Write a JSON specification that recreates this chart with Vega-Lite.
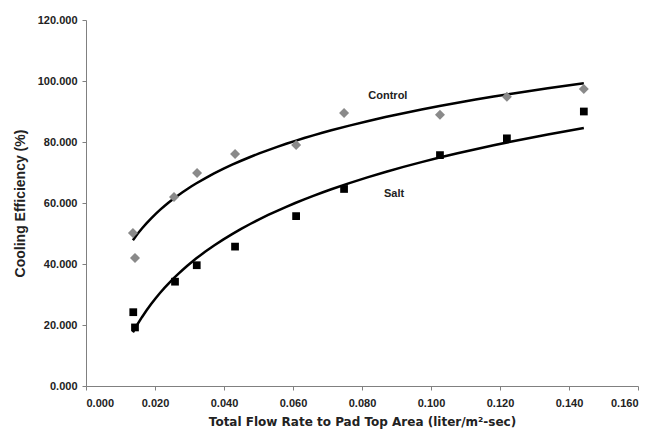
{
  "$schema": "https://vega.github.io/schema/vega-lite/v6.json",
  "autosize": {"type": "none"},
  "width": 552,
  "height": 366,
  "padding": {"left": 86, "top": 20, "right": 15, "bottom": 49},
  "background": "white",
  "config": {"view": {"stroke": null}},
  "datasets": {
    "pts": [
      {"series": "Control", "x": 0.0136, "y": 50.2},
      {"series": "Control", "x": 0.0142, "y": 42.0},
      {"series": "Control", "x": 0.0255, "y": 62.0},
      {"series": "Control", "x": 0.0322, "y": 69.8},
      {"series": "Control", "x": 0.0432, "y": 76.1},
      {"series": "Control", "x": 0.0609, "y": 79.0},
      {"series": "Control", "x": 0.0748, "y": 89.5},
      {"series": "Control", "x": 0.1026, "y": 88.9},
      {"series": "Control", "x": 0.1220, "y": 94.8},
      {"series": "Control", "x": 0.1443, "y": 97.4},
      {"series": "Salt", "x": 0.0137, "y": 24.2},
      {"series": "Salt", "x": 0.0142, "y": 19.2},
      {"series": "Salt", "x": 0.0258, "y": 34.2},
      {"series": "Salt", "x": 0.0321, "y": 39.6},
      {"series": "Salt", "x": 0.0432, "y": 45.7},
      {"series": "Salt", "x": 0.0609, "y": 55.7},
      {"series": "Salt", "x": 0.0748, "y": 64.6},
      {"series": "Salt", "x": 0.1026, "y": 75.7},
      {"series": "Salt", "x": 0.1220, "y": 81.2},
      {"series": "Salt", "x": 0.1443, "y": 90.0}
    ],
    "labels": [
      {"label": "Control", "x": 0.0875, "y": 95.1},
      {"label": "Salt", "x": 0.0893, "y": 63.0}
    ]
  },
  "layer": [
    {
      "data": {"name": "pts"},
      "transform": [
        {"regression": "y", "on": "x", "groupby": ["series"], "method": "log", "extent": [0.0136, 0.1443]}
      ],
      "mark": {"type": "line", "color": "black", "strokeWidth": 2.5},
      "encoding": {
        "x": {"field": "x", "type": "quantitative", "scale": {"domain": [0, 0.16]},
          "axis": {"values": [0, 0.02, 0.04, 0.06, 0.08, 0.1, 0.12, 0.14, 0.16], "format": ".3f", "grid": false,
            "domainColor": "#808080", "tickColor": "#808080", "tickSize": 4, "labelPadding": 7,
            "labelFont": "Liberation Sans", "labelFontWeight": "bold", "labelFontSize": 11, "labelColor": "#222",
            "title": "Total Flow Rate to Pad Top Area (liter/m²-sec)", "titleFont": "DejaVu Sans", "titleFontSize": 12,
            "titleFontWeight": "bold", "titleColor": "#222", "titlePadding": 8}},
        "y": {"field": "y", "type": "quantitative", "scale": {"domain": [0, 120]},
          "axis": {"values": [0, 20, 40, 60, 80, 100, 120], "format": ".3f", "grid": false,
            "domainColor": "#808080", "tickColor": "#808080", "tickSize": 4, "labelPadding": 5,
            "labelFont": "Liberation Sans", "labelFontWeight": "bold", "labelFontSize": 11, "labelColor": "#222",
            "title": "Cooling Efficiency (%)", "titleFont": "Liberation Sans", "titleFontSize": 14,
            "titleFontWeight": "bold", "titleColor": "#222", "titlePadding": 10}},
        "detail": {"field": "series"}
      }
    },
    {
      "data": {"name": "pts"},
      "mark": {"type": "point", "filled": true, "opacity": 1},
      "encoding": {
        "x": {"field": "x", "type": "quantitative"},
        "y": {"field": "y", "type": "quantitative"},
        "shape": {"field": "series", "type": "nominal", "scale": {"domain": ["Control", "Salt"], "range": ["diamond", "square"]}, "legend": null},
        "color": {"field": "series", "type": "nominal", "scale": {"domain": ["Control", "Salt"], "range": ["#8a8a8a", "#000000"]}, "legend": null},
        "size": {"field": "series", "type": "nominal", "scale": {"domain": ["Control", "Salt"], "range": [100, 60]}, "legend": null}
      }
    },
    {
      "data": {"name": "labels"},
      "mark": {"type": "text", "font": "Liberation Sans", "fontWeight": "bold", "fontSize": 11, "color": "#222"},
      "encoding": {
        "x": {"field": "x", "type": "quantitative"},
        "y": {"field": "y", "type": "quantitative"},
        "text": {"field": "label"}
      }
    }
  ]
}
